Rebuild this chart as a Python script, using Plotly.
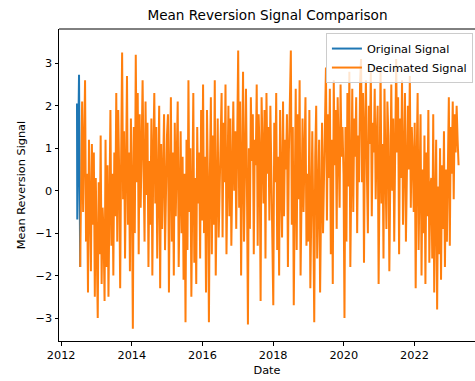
import pandas as pd
import plotly.graph_objects as go

# Original signal (only visible at the very start)
orig_dates = ["2012-06-13", "2012-06-16", "2012-07-04", "2012-07-10", "2012-07-16"]
orig_values = [2.05, -0.68, 2.73, 1.0, -1.8]

# Decimated signal, roughly every 10 days from 2012-07-16
dec_start = "2012-07-16"
dec_values = [
    -1.8, 0.6, 2.1, -0.5, 1.5, 2.6, -1.2, 0.4, -2.4, 1.2, -0.3, -1.9, 1.1, -0.8, 0.9, -2.5, 0.3, -1.4,
    -3.0, 0.2, -1.5, 1.3, -2.2, -0.4, -1.0, -2.6, 1.2, -1.8, 0.6, -2.5, -0.9, 1.9, -1.3, 0.4, -2.0, 0.9,
    -0.6, 2.3, -1.2, 1.9, 0.4, -2.3, 0.8, 3.25, -0.2, 1.4, -1.6, 0.6, 2.7, -0.8, 0.9, -1.9, 1.7, 0.2,
    -3.25, 1.5, -1.0, 3.2, 0.2, 2.3, -1.5, 1.8, -0.4, 1.0, 2.6, 0.5, -1.2, 2.1, -0.1, 1.6, -1.8, 0.7,
    -0.8, 1.7, -2.0, 0.9, 2.3, -0.3, 1.5, -1.6, 0.4, 2.0, -2.3, 1.1, -0.9, 0.6, 1.8, -1.4, 0.2, 1.3,
    1.8, -2.4, 0.3, 2.2, -1.2, 0.9, -2.0, 1.6, -0.6, 0.5, 2.1, -1.8, 0.2, 1.4, -1.0, 0.8, -2.1, 0.4,
    -3.1, 1.2, -1.4, 2.6, -0.5, 1.0, -2.5, 0.7, 2.3, -1.7, 0.3, -2.2, 1.5, -0.3, 0.9, -1.6, 1.9, -0.7,
    2.5, -1.0, 0.8, -2.4, 1.9, 0.2, -3.1, 0.4, 2.2, -1.5, 1.3, -0.8, 2.6, -2.0, 0.6, 1.7, -1.1, 0.3,
    0.9, 2.3, -1.1, 1.6, 0.2, 2.5, -1.5, 1.1, 2.0, -0.6, 1.7, -1.3, 0.6, 2.1, 0.0, 1.4, -0.9, 1.8,
    3.3, -0.4, 2.1, -2.0, 1.3, 2.8, -1.2, 0.5, 2.4, 0.1, -3.15, 1.0, -0.9, 2.2, 0.7, 1.8, -1.5, 1.2,
    0.6, 2.5, -1.3, 1.8, 0.9, -2.6, 2.2, 1.0, -0.3, 1.9, -1.6, 2.3, 0.4, 1.5, -0.7, 2.0, 0.8, -1.1,
    -2.7, 1.6, 0.2, 2.3, -1.4, 0.8, -2.0, 1.9, 0.1, -1.1, 2.1, -0.6, 1.2, 0.5, 1.8, -1.8, 0.9, 2.0,
    3.3, -0.8, 1.5, -2.7, 0.6, 2.4, -1.4, 1.8, -0.2, 2.6, -2.0, 0.9, 1.7, -0.5, 1.2, 2.2, -1.3, 0.4,
    -1.2, 1.9, -2.3, 0.5, 1.4, -0.6, -3.1, 0.8, 2.0, -1.6, -0.3, 1.2, -2.4, 0.6, 1.6, -1.0, 0.2, 1.8,
    2.9, -0.7, 1.8, 0.3, 2.4, -1.5, 1.2, -2.2, 2.6, 0.6, 1.9, -0.9, 2.2, 1.0, -0.4, 2.5, 0.8, 1.5,
    0.4, -3.0, 1.5, -1.2, 2.3, 0.1, 2.8, -1.8, 1.0, 2.4, -0.5, 1.7, 0.8, 2.2, -1.0, 1.3, 0.2, 2.6,
    3.1, 0.2, 2.3, -1.7, 1.5, 2.6, 0.4, -1.0, 2.0, 1.1, 2.8, -0.6, 1.6, 0.9, 2.4, -0.2, 1.2, 2.0,
    -2.2, 1.4, 2.9, -0.3, 1.1, -1.6, 2.4, 0.6, -0.9, 2.1, 1.3, -1.9, 0.8, 2.5, 0.0, 1.7, -1.2, 1.0,
    3.1, 0.9, 2.2, -1.5, 1.7, 0.3, 2.6, -0.8, 1.4, 2.3, -1.2, 1.0, 2.0, 0.5, 2.7, -0.4, 1.5, 0.8,
    -0.5, 1.6, -2.3, 0.7, 2.3, -1.4, 0.2, 1.8, -2.0, 0.5, -1.0, 1.3, -2.2, 0.9, -0.6, 1.9, -1.7, 0.1,
    0.3, -1.6, 1.8, -2.4, -0.4, 1.2, -2.8, 0.1, -1.5, 1.0, -2.1, 0.6, -0.9, 1.4, -1.8, 0.5, -1.2, 0.8,
    2.2, -1.3, 1.5, 0.4, 2.1, -0.2, 1.8, 0.9, 2.0, 1.2, 0.6,
]
dec_dates = pd.date_range(dec_start, periods=len(dec_values), freq="242h")

tick_years = ["2012", "2014", "2016", "2018", "2020", "2022"]
y_ticks = [-3, -2, -1, 0, 1, 2, 3]

FONT = "DejaVu Sans"

fig = go.Figure()
fig.add_trace(go.Scatter(x=orig_dates, y=orig_values, mode="lines",
                         name="Original Signal",
                         line=dict(color="#1f77b4", width=2)))
fig.add_trace(go.Scatter(x=dec_dates, y=dec_values, mode="lines",
                         name="Decimated Signal",
                         line=dict(color="#ff7f0e", width=2)))

fig.update_layout(
    width=475, height=381,
    margin=dict(l=59, r=0, t=29, b=40, autoexpand=False),
    paper_bgcolor="white", plot_bgcolor="white",
    font=dict(family=FONT, size=11, color="black"),
    title=dict(text="Mean Reversion Signal Comparison", x=(59 + 476) / 2 / 475,
               xanchor="center", y=1 - 15 / 381, yanchor="middle",
               font=dict(size=13.6, family=FONT, color="black")),
    showlegend=True,
    legend=dict(x=0.995, y=0.987, xanchor="right", yanchor="top",
                bgcolor="rgba(255,255,255,0.8)", bordercolor="#cccccc",
                borderwidth=1, font=dict(size=11.3, family=FONT),
                itemwidth=30, tracegroupgap=0),
)
fig.update_xaxes(
    type="date", range=["2011-12-10", "2023-09-19"], automargin=False,
    tickmode="array", tickvals=[f"{y}-01-01" for y in tick_years], ticktext=tick_years,
    showgrid=False, zeroline=False, showline=True, linecolor="black", linewidth=1,
    ticks="outside", ticklen=3.5, tickcolor="black", tickfont=dict(size=11.3),
    title=dict(text="Date", standoff=5, font=dict(size=11.3, family=FONT)),
)
fig.update_yaxes(
    range=[-3.54, 3.806], tickmode="array", tickvals=y_ticks, automargin=False,
    showgrid=False, zeroline=False, showline=True, linecolor="black", linewidth=1,
    ticks="outside", ticklen=3.5, tickcolor="black", tickfont=dict(size=11.3),
    title=dict(text="Mean Reversion Signal", standoff=7, font=dict(size=11.3, family=FONT)),
)
fig.add_shape(type="line", xref="paper", yref="paper", x0=0, x1=1, y0=1, y1=1,
              line=dict(color="black", width=1))

fig.write_html("out.html", config={"displayModeBar": False},
               post_script="document.body.style.margin='0';")
